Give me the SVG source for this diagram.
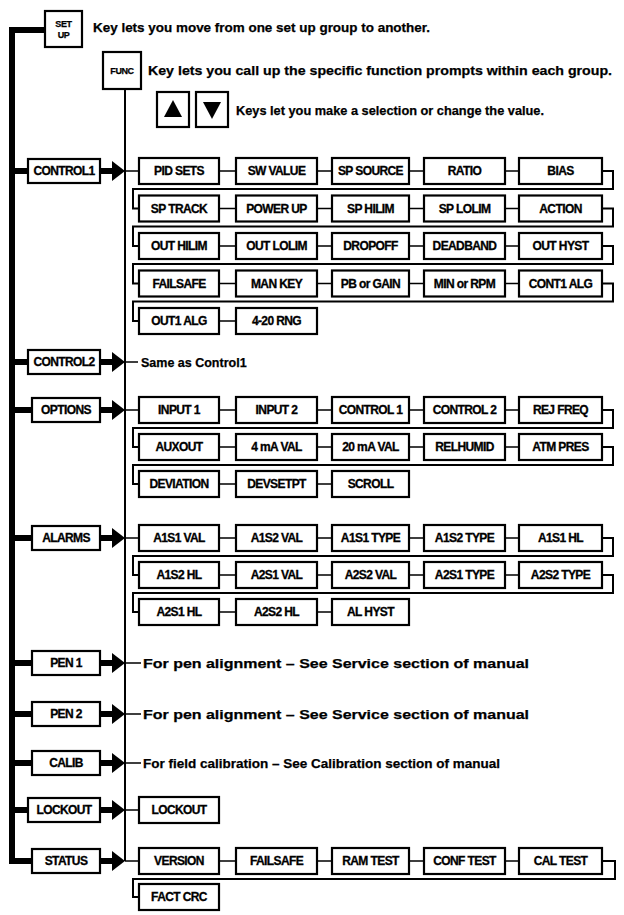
<svg xmlns="http://www.w3.org/2000/svg" xmlns:xlink="http://www.w3.org/1999/xlink" width="624" height="915" viewBox="0 0 624 915">
<style>
.b{fill:#fff;stroke:#000;stroke-width:2.2}
.t{font-family:"Liberation Sans",Arial,sans-serif;font-weight:bold;font-size:12px;letter-spacing:-0.6px;text-anchor:middle;fill:#000;stroke:#000;stroke-width:0.3}
.h{font-family:"Liberation Sans",Arial,sans-serif;font-weight:bold;font-size:13px;fill:#000;stroke:#000;stroke-width:0.25}
.k{font-family:"Liberation Sans",Arial,sans-serif;font-weight:bold;font-size:9px;letter-spacing:-0.4px;text-anchor:middle;fill:#000;stroke:#000;stroke-width:0.25}
.c{fill:none;stroke:#000;stroke-width:1.5}
.w{fill:none;stroke:#000;stroke-width:2}
.bar{fill:none;stroke:#000;stroke-width:6;stroke-linejoin:miter}
</style>
<defs>
<g id="arr"><path d="M-25,0H-12" stroke="#000" stroke-width="6"/><polygon points="-13,-10 0,0 -13,10" fill="#000"/></g>
</defs>

<g id="keys">
<g id="setup"><rect class="b" x="45" y="11" width="37" height="36"/><text class="k" x="63.5" y="27">SET</text><text class="k" x="63.5" y="38">UP</text></g>
<g id="func"><rect class="b" x="103" y="52" width="38" height="37"/><text class="k" x="122" y="73.5">FUNC</text></g>
<g id="upkey"><rect class="b" x="157" y="92" width="32" height="35"/><polygon points="173,100 182,117 164,117" fill="#000"/></g>
<g id="downkey"><rect class="b" x="196" y="92" width="32" height="35"/><polygon points="203,102 221,102 212,119" fill="#000"/></g>
<text class="h" x="93" y="32" textLength="337" lengthAdjust="spacingAndGlyphs">Key lets you move from one set up group to another.</text>
<text class="h" x="148" y="75" textLength="464" lengthAdjust="spacingAndGlyphs">Key lets you call up the specific function prompts within each group.</text>
<text class="h" x="236" y="115" textLength="308" lengthAdjust="spacingAndGlyphs">Keys let you make a selection or change the value.</text>
</g>

<g id="connectors">
<path class="bar" d="M45,30H12V861H32"/>
<path class="bar" d="M12,171H28M12,362H28M12,410H32M12,538H32M12,663H32M12,714H32M12,763H32M12,810H28"/>
<path class="w" d="M125,89V861"/>
<use xlink:href="#arr" x="125" y="171"/>
<use xlink:href="#arr" x="125" y="362"/>
<use xlink:href="#arr" x="125" y="410"/>
<use xlink:href="#arr" x="125" y="538"/>
<use xlink:href="#arr" x="125" y="663"/>
<use xlink:href="#arr" x="125" y="714"/>
<use xlink:href="#arr" x="125" y="763"/>
<use xlink:href="#arr" x="125" y="810"/>
<use xlink:href="#arr" x="125" y="861"/>
<path class="c" d="M125,171H139M125,362H138M125,410H139M125,538H139M125,663H141M125,714H141M125,763H141M125,810H139M125,861H139"/>
<path class="c" d="M219,171H236M317,171H332M409,171H424M505,171H519
M219,208.5H236M317,208.5H332M409,208.5H424M505,208.5H519
M219,246H236M317,246H332M409,246H424M505,246H519
M219,283.5H236M317,283.5H332M409,283.5H424M505,283.5H519
M219,321H236"/>
<path class="w" d="M602,171H613V189H133V208.5H139M602,208.5H613V226.5H133V246H139M602,246H613V264H133V283.5H139M602,283.5H613V301.5H133V321H139"/>
<path class="c" d="M219,410H236M317,410H332M409,410H424M505,410H519
M219,447H236M317,447H332M409,447H424M505,447H519
M219,484H236M317,484H332"/>
<path class="w" d="M602,410H613V428H133V447H139M602,447H613V465H133V484H139"/>
<path class="c" d="M219,538H236M317,538H332M409,538H424M505,538H519
M219,575H236M317,575H332M409,575H424M505,575H519
M219,612H236M317,612H332"/>
<path class="w" d="M602,538H613V556H133V575H139M602,575H613V593H133V612H139"/>
<path class="c" d="M219,861H236M317,861H332M409,861H424M505,861H519"/>
<path class="w" d="M602,861H615V879H133V897H139"/>
</g>

<g id="group-control1"><rect class="b" x="28" y="159" width="72" height="24"/><text class="t" x="64" y="175.3">CONTROL1</text></g>
<g id="group-control2"><rect class="b" x="28" y="350" width="72" height="24"/><text class="t" x="64" y="366.3">CONTROL2</text></g>
<g id="group-options"><rect class="b" x="32" y="398" width="68" height="24"/><text class="t" x="66" y="414.3">OPTIONS</text></g>
<g id="group-alarms"><rect class="b" x="32" y="526" width="68" height="24"/><text class="t" x="66" y="542.3">ALARMS</text></g>
<g id="group-pen1"><rect class="b" x="32" y="651" width="68" height="24"/><text class="t" x="66" y="667.3">PEN 1</text></g>
<g id="group-pen2"><rect class="b" x="32" y="702" width="68" height="24"/><text class="t" x="66" y="718.3">PEN 2</text></g>
<g id="group-calib"><rect class="b" x="32" y="751" width="68" height="24"/><text class="t" x="66" y="767.3">CALIB</text></g>
<g id="group-lockout"><rect class="b" x="28" y="798" width="72" height="24"/><text class="t" x="64" y="814.3">LOCKOUT</text></g>
<g id="group-status"><rect class="b" x="32" y="849" width="68" height="24"/><text class="t" x="66" y="865.3">STATUS</text></g>

<g id="note-control2"><text class="h" x="141" y="366.5" style="font-size:12.5px">Same as Control1</text></g>
<g id="note-pen1"><text class="h" x="143" y="667.5" style="font-size:13px" textLength="386" lengthAdjust="spacingAndGlyphs">For pen alignment – See Service section of manual</text></g>
<g id="note-pen2"><text class="h" x="143" y="718.5" style="font-size:13px" textLength="386" lengthAdjust="spacingAndGlyphs">For pen alignment – See Service section of manual</text></g>
<g id="note-calib"><text class="h" x="143" y="767.5" style="font-size:13px" textLength="357" lengthAdjust="spacingAndGlyphs">For field calibration – See Calibration section of manual</text></g>

<g id="c1-pidsets"><rect class="b" x="139" y="158" width="80" height="26"/><text class="t" x="179" y="175.3">PID SETS</text></g>
<g id="c1-swvalue"><rect class="b" x="236" y="158" width="81" height="26"/><text class="t" x="276.5" y="175.3">SW VALUE</text></g>
<g id="c1-spsource"><rect class="b" x="332" y="158" width="77" height="26"/><text class="t" x="370.5" y="175.3">SP SOURCE</text></g>
<g id="c1-ratio"><rect class="b" x="424" y="158" width="81" height="26"/><text class="t" x="464.5" y="175.3">RATIO</text></g>
<g id="c1-bias"><rect class="b" x="519" y="158" width="83" height="26"/><text class="t" x="560.5" y="175.3">BIAS</text></g>

<g id="c1-sptrack"><rect class="b" x="139" y="195.5" width="80" height="26"/><text class="t" x="179" y="212.8">SP TRACK</text></g>
<g id="c1-powerup"><rect class="b" x="236" y="195.5" width="81" height="26"/><text class="t" x="276.5" y="212.8">POWER UP</text></g>
<g id="c1-sphilim"><rect class="b" x="332" y="195.5" width="77" height="26"/><text class="t" x="370.5" y="212.8">SP HILIM</text></g>
<g id="c1-splolim"><rect class="b" x="424" y="195.5" width="81" height="26"/><text class="t" x="464.5" y="212.8">SP LOLIM</text></g>
<g id="c1-action"><rect class="b" x="519" y="195.5" width="83" height="26"/><text class="t" x="560.5" y="212.8">ACTION</text></g>

<g id="c1-outhilim"><rect class="b" x="139" y="233" width="80" height="26"/><text class="t" x="179" y="250.3">OUT HILIM</text></g>
<g id="c1-outlolim"><rect class="b" x="236" y="233" width="81" height="26"/><text class="t" x="276.5" y="250.3">OUT LOLIM</text></g>
<g id="c1-dropoff"><rect class="b" x="332" y="233" width="77" height="26"/><text class="t" x="370.5" y="250.3">DROPOFF</text></g>
<g id="c1-deadband"><rect class="b" x="424" y="233" width="81" height="26"/><text class="t" x="464.5" y="250.3">DEADBAND</text></g>
<g id="c1-outhyst"><rect class="b" x="519" y="233" width="83" height="26"/><text class="t" x="560.5" y="250.3">OUT HYST</text></g>

<g id="c1-failsafe"><rect class="b" x="139" y="270.5" width="80" height="26"/><text class="t" x="179" y="287.8">FAILSAFE</text></g>
<g id="c1-mankey"><rect class="b" x="236" y="270.5" width="81" height="26"/><text class="t" x="276.5" y="287.8">MAN KEY</text></g>
<g id="c1-pbgain"><rect class="b" x="332" y="270.5" width="77" height="26"/><text class="t" x="370.5" y="287.8">PB or GAIN</text></g>
<g id="c1-minrpm"><rect class="b" x="424" y="270.5" width="81" height="26"/><text class="t" x="464.5" y="287.8">MIN or RPM</text></g>
<g id="c1-cont1alg"><rect class="b" x="519" y="270.5" width="83" height="26"/><text class="t" x="560.5" y="287.8">CONT1 ALG</text></g>

<g id="c1-out1alg"><rect class="b" x="139" y="308" width="80" height="26"/><text class="t" x="179" y="325.3">OUT1 ALG</text></g>
<g id="c1-420rng"><rect class="b" x="236" y="308" width="81" height="26"/><text class="t" x="276.5" y="325.3">4-20 RNG</text></g>

<g id="op-input1"><rect class="b" x="139" y="397" width="80" height="26"/><text class="t" x="179" y="414.3">INPUT 1</text></g>
<g id="op-input2"><rect class="b" x="236" y="397" width="81" height="26"/><text class="t" x="276.5" y="414.3">INPUT 2</text></g>
<g id="op-control1"><rect class="b" x="332" y="397" width="77" height="26"/><text class="t" x="370.5" y="414.3">CONTROL 1</text></g>
<g id="op-control2"><rect class="b" x="424" y="397" width="81" height="26"/><text class="t" x="464.5" y="414.3">CONTROL 2</text></g>
<g id="op-rejfreq"><rect class="b" x="519" y="397" width="83" height="26"/><text class="t" x="560.5" y="414.3">REJ FREQ</text></g>

<g id="op-auxout"><rect class="b" x="139" y="434" width="80" height="26"/><text class="t" x="179" y="451.3">AUXOUT</text></g>
<g id="op-4ma"><rect class="b" x="236" y="434" width="81" height="26"/><text class="t" x="276.5" y="451.3">4 mA VAL</text></g>
<g id="op-20ma"><rect class="b" x="332" y="434" width="77" height="26"/><text class="t" x="370.5" y="451.3">20 mA VAL</text></g>
<g id="op-relhumid"><rect class="b" x="424" y="434" width="81" height="26"/><text class="t" x="464.5" y="451.3">RELHUMID</text></g>
<g id="op-atmpres"><rect class="b" x="519" y="434" width="83" height="26"/><text class="t" x="560.5" y="451.3">ATM PRES</text></g>

<g id="op-deviation"><rect class="b" x="139" y="471" width="80" height="26"/><text class="t" x="179" y="488.3">DEVIATION</text></g>
<g id="op-devsetpt"><rect class="b" x="236" y="471" width="81" height="26"/><text class="t" x="276.5" y="488.3">DEVSETPT</text></g>
<g id="op-scroll"><rect class="b" x="332" y="471" width="77" height="26"/><text class="t" x="370.5" y="488.3">SCROLL</text></g>

<g id="al-a1s1val"><rect class="b" x="139" y="525" width="80" height="26"/><text class="t" x="179" y="542.3">A1S1 VAL</text></g>
<g id="al-a1s2val"><rect class="b" x="236" y="525" width="81" height="26"/><text class="t" x="276.5" y="542.3">A1S2 VAL</text></g>
<g id="al-a1s1type"><rect class="b" x="332" y="525" width="77" height="26"/><text class="t" x="370.5" y="542.3">A1S1 TYPE</text></g>
<g id="al-a1s2type"><rect class="b" x="424" y="525" width="81" height="26"/><text class="t" x="464.5" y="542.3">A1S2 TYPE</text></g>
<g id="al-a1s1hl"><rect class="b" x="519" y="525" width="83" height="26"/><text class="t" x="560.5" y="542.3">A1S1 HL</text></g>

<g id="al-a1s2hl"><rect class="b" x="139" y="562" width="80" height="26"/><text class="t" x="179" y="579.3">A1S2 HL</text></g>
<g id="al-a2s1val"><rect class="b" x="236" y="562" width="81" height="26"/><text class="t" x="276.5" y="579.3">A2S1 VAL</text></g>
<g id="al-a2s2val"><rect class="b" x="332" y="562" width="77" height="26"/><text class="t" x="370.5" y="579.3">A2S2 VAL</text></g>
<g id="al-a2s1type"><rect class="b" x="424" y="562" width="81" height="26"/><text class="t" x="464.5" y="579.3">A2S1 TYPE</text></g>
<g id="al-a2s2type"><rect class="b" x="519" y="562" width="83" height="26"/><text class="t" x="560.5" y="579.3">A2S2 TYPE</text></g>

<g id="al-a2s1hl"><rect class="b" x="139" y="599" width="80" height="26"/><text class="t" x="179" y="616.3">A2S1 HL</text></g>
<g id="al-a2s2hl"><rect class="b" x="236" y="599" width="81" height="26"/><text class="t" x="276.5" y="616.3">A2S2 HL</text></g>
<g id="al-alhyst"><rect class="b" x="332" y="599" width="77" height="26"/><text class="t" x="370.5" y="616.3">AL HYST</text></g>

<g id="lo-lockout"><rect class="b" x="139" y="797" width="80" height="26"/><text class="t" x="179" y="814.3">LOCKOUT</text></g>

<g id="st-version"><rect class="b" x="139" y="848" width="80" height="26"/><text class="t" x="179" y="865.3">VERSION</text></g>
<g id="st-failsafe"><rect class="b" x="236" y="848" width="81" height="26"/><text class="t" x="276.5" y="865.3">FAILSAFE</text></g>
<g id="st-ramtest"><rect class="b" x="332" y="848" width="77" height="26"/><text class="t" x="370.5" y="865.3">RAM TEST</text></g>
<g id="st-conftest"><rect class="b" x="424" y="848" width="81" height="26"/><text class="t" x="464.5" y="865.3">CONF TEST</text></g>
<g id="st-caltest"><rect class="b" x="519" y="848" width="83" height="26"/><text class="t" x="560.5" y="865.3">CAL TEST</text></g>
<g id="st-factcrc"><rect class="b" x="139" y="884" width="80" height="26"/><text class="t" x="179" y="901.3">FACT CRC</text></g>
</svg>
